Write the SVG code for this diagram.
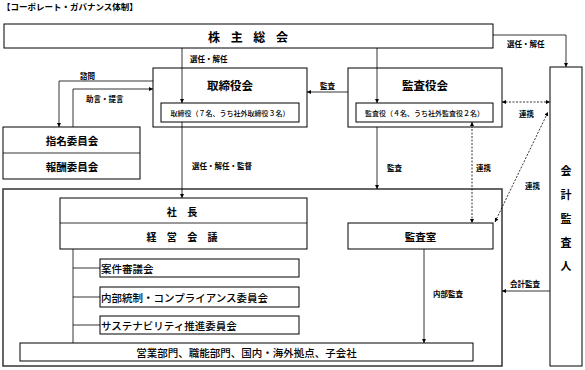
<svg xmlns="http://www.w3.org/2000/svg" width="585" height="370" viewBox="0 0 585 370">
<defs>
<style>
text{font-family:"Noto Sans CJK JP","Noto Sans CJK SC",sans-serif;fill:#000}
.b{fill:#fff;stroke:#000;stroke-width:1}
.t{font-weight:bold;text-anchor:middle;dominant-baseline:central}
.n{font-size:10.5px;font-weight:500;dominant-baseline:central}
.s{font-size:7.5px;font-weight:bold;dominant-baseline:central}
.l{fill:none;stroke:#000;stroke-width:0.8}
.d{fill:none;stroke:#000;stroke-width:0.8;stroke-dasharray:2,1.5}
</style>
<marker id="a" viewBox="0 0 6 6" refX="6" refY="3" markerWidth="5" markerHeight="5" orient="auto-start-reverse"><path d="M0,0L6,3L0,6z" fill="#000"/></marker>
</defs>
<rect width="585" height="370" fill="#fff"/>
<text x="2" y="6" style="font-size:8.5px;font-weight:bold;dominant-baseline:central">【コーポレート・ガバナンス体制】</text>

<g id="outer"><rect class="b" x="3" y="189" width="499" height="177" style="stroke-width:1.5;stroke:#333"/></g>
<g id="shareholders"><rect class="b" x="4" y="24" width="489" height="24"/><text class="t" x="250" y="36" style="font-size:12px;letter-spacing:4px">株 主 総 会</text></g>
<g id="board"><rect class="b" x="153" y="68" width="154" height="59"/><text class="t" x="230" y="85" style="font-size:11.5px">取締役会</text>
<rect class="b" x="161" y="103" width="138" height="19"/><text class="t" x="230" y="112.5" style="font-size:7px;font-weight:500">取締役（７名、うち社外取締役３名）</text></g>
<g id="auditboard"><rect class="b" x="348" y="68" width="154" height="59"/><text class="t" x="425" y="85" style="font-size:11.5px">監査役会</text>
<rect class="b" x="356" y="103" width="137" height="19"/><text class="t" x="424.5" y="112.5" style="font-size:7px;font-weight:500">監査役（４名、うち社外監査役２名）</text></g>
<g id="committees"><rect class="b" x="3" y="127" width="137" height="52"/><line class="l" x1="3" y1="153" x2="140" y2="153"/>
<text class="t" x="72" y="140" style="font-size:10.5px">指名委員会</text><text class="t" x="72" y="166" style="font-size:10.5px">報酬委員会</text></g>
<g id="auditor"><rect class="b" x="550" y="67" width="32" height="299"/>
<text class="t" x="566" y="170" style="font-size:11px">会</text><text class="t" x="566" y="194" style="font-size:11px">計</text><text class="t" x="566" y="218" style="font-size:11px">監</text><text class="t" x="566" y="242" style="font-size:11px">査</text><text class="t" x="566" y="265" style="font-size:11px">人</text></g>
<g id="president"><rect class="b" x="60" y="198" width="247" height="51"/><line class="l" x1="60" y1="223" x2="307" y2="223"/>
<text class="t" x="184" y="211" style="font-size:10px;letter-spacing:4px">社 長</text><text class="t" x="184" y="236" style="font-size:10px;letter-spacing:4px">経 営 会 議</text></g>
<g id="auditoffice"><rect class="b" x="348" y="223" width="145" height="26"/><text class="t" x="420.5" y="236.5" style="font-size:10.5px">監査室</text></g>
<g id="c1"><rect class="b" x="100" y="259" width="199" height="18"/><text class="n" x="101" y="268">案件審議会</text></g>
<g id="c2"><rect class="b" x="100" y="287" width="199" height="20"/><text class="n" x="101" y="297">内部統制・コンプライアンス委員会</text></g>
<g id="c3"><rect class="b" x="100" y="316" width="199" height="18"/><text class="n" x="101" y="325">サステナビリティ推進委員会</text></g>
<g id="divisions"><rect class="b" x="20" y="343" width="453" height="18"/><text class="n" x="246.5" y="352.5" style="text-anchor:middle">営業部門、職能部門、国内・海外拠点、子会社</text></g>

<g id="connectors">
<path class="l" d="M493,35H566V67" marker-end="url(#a)"/>
<path class="l" d="M182,48V103" marker-end="url(#a)"/>
<path class="l" d="M377,48V103" marker-end="url(#a)"/>
<path class="l" d="M182,122V198" marker-end="url(#a)"/>
<path class="l" d="M348,92H307" marker-end="url(#a)"/>
<path class="l" d="M153,81H59V127" marker-end="url(#a)"/>
<path class="l" d="M73,127V89H153" marker-end="url(#a)"/>
<path class="l" d="M377,127V189" marker-end="url(#a)"/>
<path class="d" d="M472,122V223" marker-start="url(#a)" marker-end="url(#a)"/>
<path class="d" d="M502,102H550" marker-start="url(#a)" marker-end="url(#a)"/>
<path class="d" d="M495,222L548,112" marker-start="url(#a)" marker-end="url(#a)"/>
<path class="l" d="M550,291H502" marker-end="url(#a)"/>
<path class="l" d="M424,249V343" marker-end="url(#a)"/>
<path class="l" d="M73,249V343M73,268H100M73,297H100M73,325H100"/>
<text class="s" x="507" y="43">選任・解任</text>
<text class="s" x="190" y="58">選任・解任</text>
<text class="s" x="192" y="165">選任・解任・監督</text>
<text class="s" x="320" y="85">監査</text>
<text class="s" x="80" y="75">諮問</text>
<text class="s" x="86" y="98">助言・提言</text>
<text class="s" x="387" y="167">監査</text>
<text class="s" x="476" y="167">連携</text>
<text class="s" x="519" y="113">連携</text>
<text class="s" x="525" y="185">連携</text>
<text class="s" x="510" y="283">会計監査</text>
<text class="s" x="433" y="293">内部監査</text>
</g>
</svg>
